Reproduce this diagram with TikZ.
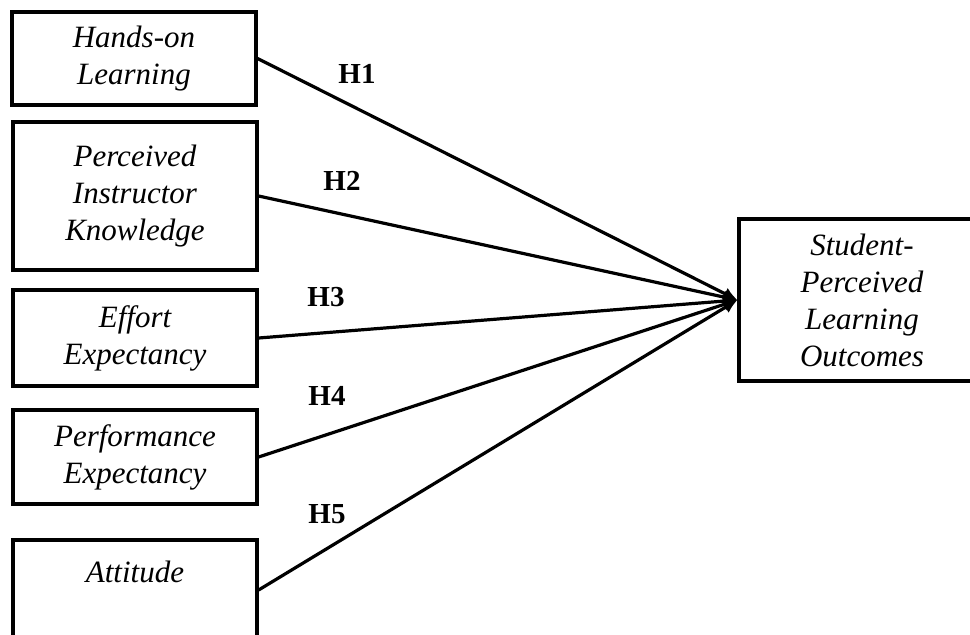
\documentclass[tikz,border=0pt]{standalone}
\usepackage{fontspec}
\setmainfont{Liberation Serif}
\usetikzlibrary{arrows.meta}
\tikzstyle{construct} = [rectangle, minimum width=122pt, text centered, text width=118pt, inner sep=0pt, draw=black, line width=1.6pt, font=\itshape\fontsize{15.5}{18.5}\selectfont]
\tikzstyle{hyp} = [font=\bfseries\fontsize{14.5}{16}\selectfont]
\tikzstyle{arrow} = [line width=1.6pt,-{Latex[length=7pt,width=6.5pt]}]

\begin{document}
\begin{tikzpicture}[x=0.5pt, y=-0.5pt]
\useasboundingbox (0,0) rectangle (970,634);
\clip (0,0) rectangle (970,634);
\node (hands) [construct, minimum height=46.5pt] at (134,58.5) {Hands-on\\Learning};
\node (instr) [construct, minimum height=74pt] at (135,196) {Perceived\\Instructor\\Knowledge};
\node (effort) [construct, minimum height=48pt] at (135,338) {Effort\\Expectancy};
\node (perf) [construct, minimum height=47pt] at (135,457) {Performance\\Expectancy};
\node (att) [construct, minimum height=50pt] at (135,590) {Attitude\\\mbox{}};

\node (outcome) [construct, minimum width=123pt, minimum height=81pt] at (862,300) {Student-\\Perceived\\Learning\\Outcomes};

\node (h1) [hyp] at (357,74) {H1};
\node (h2) [hyp] at (342,181) {H2};
\node (h3) [hyp] at (326,297) {H3};
\node (h4) [hyp] at (327,396) {H4};
\node (h5) [hyp] at (327,514) {H5};

\draw [arrow] (hands.east) -- (outcome.west);
\draw [arrow] (instr.east) -- (outcome.west);
\draw [arrow] (effort.east) -- (outcome.west);
\draw [arrow] (perf.east) -- (outcome.west);
\draw [arrow] (att.east) -- (outcome.west);
\end{tikzpicture}
\end{document}
